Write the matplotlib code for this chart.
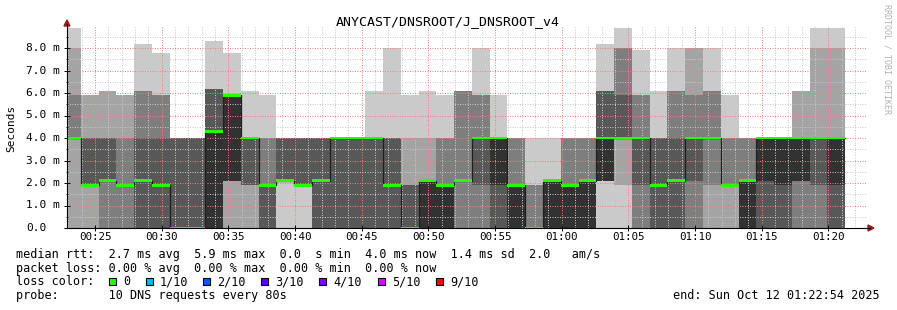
import numpy as np
import matplotlib.pyplot as plt
from matplotlib.patches import Rectangle, Polygon
from matplotlib.lines import Line2D
from matplotlib.transforms import blended_transform_factory

# 10 DNS response times (ms) per 80 s slot, sorted; first slot is partial
slot_pings = [
    [0, 0, 4.0, 4.0, 4.0, 4.0, 4.0, 5.9, 8.0, 8.9],
    [0, 0, 1.9, 1.9, 1.9, 1.9, 4.0, 4.0, 5.9, 5.9],
    [0, 0, 0, 2.1, 2.1, 2.1, 4.0, 4.0, 6.1, 6.1],
    [0, 0, 0, 1.9, 1.9, 1.9, 1.9, 4.0, 5.9, 5.9],
    [0, 0, 0, 0, 2.1, 2.1, 4.0, 6.1, 6.1, 8.2],
    [0, 0, 0, 0, 1.9, 1.9, 4.0, 5.9, 5.9, 7.8],
    [0, 0, 0, 0, 0, 0, 4.0, 4.0, 4.0, 4.0],
    [0, 0, 0, 0, 0, 0, 4.0, 4.0, 4.0, 4.0],
    [0, 0, 0, 0, 0, 4.3, 6.2, 6.2, 6.2, 8.3],
    [0, 0, 2.1, 2.1, 2.1, 5.9, 5.9, 5.9, 5.9, 7.8],
    [0, 0, 1.9, 1.9, 4.0, 4.0, 4.0, 4.0, 4.0, 6.1],
    [0, 0, 0, 0, 1.9, 1.9, 1.9, 4.0, 4.0, 5.9],
    [0, 2.1, 2.1, 2.1, 2.1, 2.1, 4.0, 4.0, 4.0, 4.0],
    [0, 1.9, 1.9, 1.9, 1.9, 1.9, 4.0, 4.0, 4.0, 4.0],
    [0, 0, 0, 0, 2.1, 2.1, 4.0, 4.0, 4.0, 4.0],
    [0, 0, 0, 0, 4.0, 4.0, 4.0, 4.0, 4.0, 4.0],
    [0, 0, 0, 0, 4.0, 4.0, 4.0, 4.0, 4.0, 4.0],
    [0, 0, 0, 0, 4.0, 4.0, 4.0, 4.0, 4.0, 6.1],
    [0, 0, 0, 0, 1.9, 1.9, 4.0, 4.0, 4.0, 8.0],
    [0, 0, 0, 0, 0, 0, 1.9, 1.9, 4.0, 5.9],
    [0, 0, 0, 0, 0, 2.1, 2.1, 2.1, 4.0, 6.1],
    [0, 0, 0, 0, 0, 1.9, 1.9, 4.0, 4.0, 5.9],
    [0, 0, 0, 2.1, 2.1, 2.1, 2.1, 6.1, 6.1, 6.1],
    [0, 0, 0, 1.9, 4.0, 4.0, 4.0, 5.9, 5.9, 8.0],
    [0, 0, 0, 0, 1.9, 4.0, 4.0, 4.0, 4.0, 5.9],
    [0, 0, 0, 0, 0, 1.9, 1.9, 4.0, 4.0, 4.0],
    [0, 0, 0, 0, 0, 0, 0, 1.9, 1.9, 4.0],
    [0, 0, 0, 0, 0, 2.1, 2.1, 2.1, 2.1, 4.0],
    [0, 0, 0, 0, 0, 1.9, 1.9, 4.0, 4.0, 4.0],
    [0, 0, 0, 0, 0, 2.1, 2.1, 4.0, 4.0, 4.0],
    [0, 2.1, 2.1, 2.1, 2.1, 4.0, 6.1, 6.1, 6.1, 8.2],
    [0, 1.9, 4.0, 4.0, 4.0, 4.0, 5.9, 8.0, 8.0, 8.9],
    [0, 0, 0, 1.9, 4.0, 4.0, 4.0, 5.9, 5.9, 7.9],
    [0, 0, 0, 0, 1.9, 1.9, 4.0, 4.0, 4.0, 6.1],
    [0, 0, 0, 0, 2.1, 2.1, 4.0, 6.1, 6.1, 8.0],
    [0, 0, 0, 2.1, 4.0, 4.0, 4.0, 5.9, 8.0, 8.0],
    [0, 0, 1.9, 4.0, 4.0, 4.0, 4.0, 6.1, 6.1, 8.0],
    [0, 0, 1.9, 1.9, 1.9, 1.9, 1.9, 4.0, 4.0, 5.9],
    [0, 0, 0, 0, 0, 2.1, 2.1, 4.0, 4.0, 4.0],
    [0, 0, 0, 0, 2.1, 4.0, 4.0, 4.0, 4.0, 4.0],
    [0, 0, 0, 0, 1.9, 4.0, 4.0, 4.0, 4.0, 4.0],
    [0, 0, 0, 2.1, 2.1, 4.0, 4.0, 4.0, 6.1, 6.1],
    [0, 0, 0, 1.9, 4.0, 4.0, 4.0, 4.0, 8.0, 8.9],
    [0, 0, 0, 0, 1.9, 4.0, 4.0, 4.0, 8.0, 8.9],
]

xtick_labels = ['00:25', '00:30', '00:35', '00:40', '00:45', '00:50',
                '00:55', '01:00', '01:05', '01:10', '01:15', '01:20']
ytick_values = [0, 1, 2, 3, 4, 5, 6, 7, 8]
ytick_labels = ['0.0', '1.0 m', '2.0 m', '3.0 m', '4.0 m', '5.0 m', '6.0 m', '7.0 m', '8.0 m']

loss_labels = ['0', '1/10', '2/10', '3/10', '4/10', '5/10', '9/10']
loss_colors = ['#26ff00', '#00b8ff', '#0059ff', '#5e00ff', '#7e00ff', '#dd00ff', '#ff0000']

stat_lines = [
    'median rtt:  2.7 ms avg  5.9 ms max  0.0  s min  4.0 ms now  1.4 ms sd  2.0   am/s',
    'packet loss: 0.00 % avg  0.00 % max  0.00 % min  0.00 % now',
]
probe_line = 'probe:       10 DNS requests every 80s'
end_line = 'end: Sun Oct 12 01:22:54 2025'

# layout (seconds from 00:22:54, graph spans one hour)
W, H = 897, 310
step_s = 80
first_edge_s = 62
smoke_shades = ['#cacaca', '#a4a4a4', '#7e7e7e', '#585858', '#323232']
mono = 'DejaVu Sans Mono'


def fx(x):
    return x / W


def fy(y):
    return 1 - y / H


P = np.array(slot_pings)
n_slots = len(P)
edges = np.r_[0, first_edge_s + step_s * np.arange(n_slots)]
median = P[:, 5]

fig = plt.figure(figsize=(W / 100, H / 100), dpi=100)
fig.patch.set_facecolor('white')
ax = fig.add_axes([fx(67), fy(228), 800 / W, 201 / H])
ax.set_xlim(0, 3600)
ax.set_ylim(0, 201 / 22.5)

# smoke: band i spans ping i .. ping 11-i, darker towards the middle
for i in range(5):
    lo = np.append(P[:, i], P[-1, i])
    hi = np.append(P[:, 9 - i], P[-1, 9 - i])
    ax.fill_between(edges, lo, hi, step='post', color=smoke_shades[i], lw=0, zorder=1)

# median line, then loss coloured marks
ax.step(edges, np.append(median, median[-1]), where='post', color='#202020', lw=0.9, zorder=3)
gw = 0.13
ax.bar(edges[:-1], gw, width=np.diff(edges), bottom=median - gw / 2, align='edge',
       color=loss_colors[0], lw=0, zorder=4)

# grid
major_x = 126 + 300 * np.arange(len(xtick_labels))
ax.set_xticks(major_x)
ax.set_xticklabels(xtick_labels, family=mono, fontsize=7.8)
ax.set_xticks(np.arange(6, 3600, 60), minor=True)
ax.set_yticks(ytick_values)
ax.set_yticklabels([])
ax.set_yticks(np.arange(0.5, 8.95, 1.0), minor=True)
ax.set_axisbelow(False)
ax.grid(which='minor', color='#c8c8c8', ls=(0, (1, 1.5)), lw=0.72)
ax.grid(which='major', color='#ee8080', ls=(0, (1, 1.5)), lw=0.72)
ax.tick_params(which='major', direction='inout', length=4, width=0.7, pad=3)
ax.tick_params(axis='x', which='major', pad=1.2)
ax.tick_params(which='minor', direction='inout', length=2, width=0.6)
ax.tick_params(axis='x', which='minor', length=0)
for s in ax.spines.values():
    s.set_visible(False)

ytr = blended_transform_factory(fig.transFigure, ax.transData)
for v, lab in zip(ytick_values, ytick_labels):
    ax.text(fx(26), v, lab, transform=ytr, family=mono, fontsize=8,
            ha='left', va='center', clip_on=False)

# axes with arrows
fig.add_artist(Line2D([fx(67), fx(870)], [fy(228), fy(228)], color='black', lw=0.8))
fig.add_artist(Line2D([fx(67), fx(67)], [fy(228), fy(24)], color='black', lw=0.8))
fig.add_artist(Polygon([[fx(868), fy(225)], [fx(874), fy(228)], [fx(868), fy(231)]],
                       closed=True, color='#a01818', transform=fig.transFigure))
fig.add_artist(Polygon([[fx(64), fy(26)], [fx(67), fy(20)], [fx(70), fy(26)]],
                       closed=True, color='#a01818', transform=fig.transFigure))

# texts
fig.text(fx(448), fy(25), 'ANYCAST/DNSROOT/J_DNSROOT_v4', family=mono, fontsize=9.5,
         ha='center', va='baseline')
fig.text(fx(11), fy(128), 'Seconds', family=mono, fontsize=8, rotation=90,
         ha='center', va='center')
fig.text(fx(887), fy(4), 'RRDTOOL / TOBI OETIKER', family=mono, fontsize=6,
         color='#b0b0b0', rotation=270, ha='center', va='top')

rows = [258, 271.8, 285.4, 298.6]
for y, line in zip(rows[:2], stat_lines):
    fig.text(fx(16), fy(y), line, family=mono, fontsize=8.5, va='baseline')
fig.text(fx(16), fy(rows[2]), 'loss color:', family=mono, fontsize=8.5, va='baseline')
box_x = [109, 146, 203, 261, 319, 378, 436]
for bx, lab, col in zip(box_x, loss_labels, loss_colors):
    fig.add_artist(Rectangle((fx(bx), fy(285.3)), 7 / W, 7.5 / H, facecolor=col,
                             edgecolor='black', lw=0.8, transform=fig.transFigure))
    fig.text(fx(bx + 14), fy(rows[2]), lab, family=mono, fontsize=8.5, va='baseline')
fig.text(fx(16), fy(rows[3]), probe_line, family=mono, fontsize=8.5, va='baseline')
fig.text(fx(880), fy(rows[3]), end_line, family=mono, fontsize=8.5, va='baseline', ha='right')

fig.savefig('out.png', dpi=100)
